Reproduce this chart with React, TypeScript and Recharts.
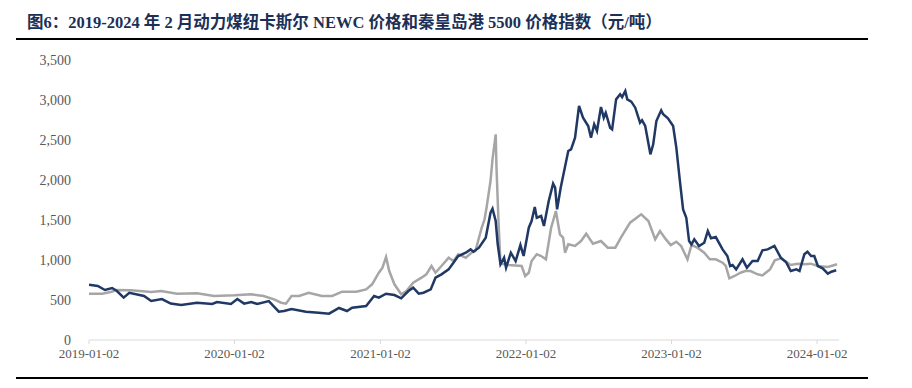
import { LineChart, Line, XAxis, YAxis } from "recharts";

// 纽卡斯尔 NEWC 动力煤价格（元/吨）
const newcDates = [
  "2019-01-02", "2019-01-24", "2019-02-11", "2019-03-01", "2019-03-13", "2019-03-30",
  "2019-04-13", "2019-05-20", "2019-06-07", "2019-07-04", "2019-07-26", "2019-08-21",
  "2019-09-30", "2019-11-07", "2019-11-19", "2019-12-24", "2020-01-09", "2020-01-26",
  "2020-02-13", "2020-02-28", "2020-03-28", "2020-04-22", "2020-05-05", "2020-05-24",
  "2020-06-29", "2020-07-31", "2020-08-26", "2020-09-20", "2020-10-10", "2020-10-23",
  "2020-11-27", "2020-12-17", "2020-12-29", "2021-01-16", "2021-02-06", "2021-02-23",
  "2021-03-13", "2021-03-25", "2021-04-08", "2021-04-20", "2021-05-08", "2021-05-20",
  "2021-06-04", "2021-06-22", "2021-07-04", "2021-07-16", "2021-08-04", "2021-08-16",
  "2021-08-23", "2021-09-06", "2021-09-23", "2021-10-05", "2021-10-10", "2021-10-18",
  "2021-10-23", "2021-10-30", "2021-11-08", "2021-11-13", "2021-11-25", "2021-12-07",
  "2021-12-19", "2021-12-27", "2022-01-09", "2022-01-16", "2022-01-24", "2022-01-29",
  "2022-02-09", "2022-02-16", "2022-02-28", "2022-03-11", "2022-03-16", "2022-03-21",
  "2022-03-30", "2022-04-18", "2022-04-25", "2022-05-05", "2022-05-15", "2022-05-25",
  "2022-06-07", "2022-06-14", "2022-06-22", "2022-06-29", "2022-07-09", "2022-07-16",
  "2022-07-21", "2022-08-01", "2022-08-06", "2022-08-16", "2022-08-26", "2022-08-31",
  "2022-09-08", "2022-09-13", "2022-09-23", "2022-10-03", "2022-10-15", "2022-10-20",
  "2022-10-28", "2022-11-10", "2022-11-17", "2022-11-25", "2022-12-07", "2022-12-12",
  "2022-12-24", "2023-01-06", "2023-01-14", "2023-01-23", "2023-01-31", "2023-02-08",
  "2023-02-15", "2023-02-21", "2023-02-28", "2023-03-12", "2023-03-25", "2023-04-03",
  "2023-04-11", "2023-04-23", "2023-05-10", "2023-05-22", "2023-05-29", "2023-06-04",
  "2023-06-13", "2023-06-29", "2023-07-10", "2023-07-24", "2023-08-06", "2023-08-18",
  "2023-08-31", "2023-09-17", "2023-10-03", "2023-10-16", "2023-10-28", "2023-11-11",
  "2023-11-19", "2023-12-01", "2023-12-09", "2023-12-18", "2023-12-26", "2024-01-04",
  "2024-01-16", "2024-01-29", "2024-02-07", "2024-02-19",
];
const newcValues = [
  690, 675, 625, 650, 612, 530,
  590, 550, 487, 512, 455, 437,
  466, 450, 475, 450, 512, 455,
  475, 450, 487, 354, 362, 387,
  354, 341, 329, 400, 362, 404,
  425, 550, 529, 579, 562, 521,
  612, 654, 579, 591, 633, 779,
  821, 883, 966, 1050, 1091, 1133,
  1104, 1154, 1279, 1591, 1640, 1487,
  1200, 946, 1029, 904, 1091, 987,
  1187, 1050, 1404, 1487, 1662, 1529,
  1550, 1425, 1737, 1954, 1904, 1633,
  1904, 2362, 2383, 2529, 2925, 2779,
  2675, 2529, 2696, 2612, 2912, 2779,
  2841, 2654, 2633, 3008, 3071, 3037,
  3112, 3008, 2979, 2904, 2716, 2746,
  2675, 2321, 2446, 2737, 2871, 2821,
  2771, 2675, 2404, 1987, 1633, 1529,
  1237, 1196, 1258, 1175, 1216, 1362,
  1271, 1287, 1133, 1050, 925, 937,
  883, 1008, 904, 987, 987, 1121,
  1133, 1175, 1029, 975, 862, 883,
  862, 1071, 1104, 1050, 1050, 925,
  896, 829, 854, 871,
];

// 秦皇岛港 5500 价格指数（元/吨）
const qhdDates = [
  "2019-01-02", "2019-02-04", "2019-02-28", "2019-03-11", "2019-04-17", "2019-06-07",
  "2019-07-02", "2019-08-11", "2019-09-30", "2019-11-12", "2020-01-02", "2020-02-13",
  "2020-03-15", "2020-04-10", "2020-04-28", "2020-05-10", "2020-05-24", "2020-06-12",
  "2020-07-06", "2020-08-08", "2020-09-03", "2020-09-28", "2020-11-02", "2020-11-27",
  "2020-12-12", "2020-12-29", "2021-01-07", "2021-01-16", "2021-01-24", "2021-02-06",
  "2021-02-23", "2021-03-08", "2021-03-25", "2021-04-15", "2021-04-27", "2021-05-10",
  "2021-05-20", "2021-06-04", "2021-06-22", "2021-07-04", "2021-07-16", "2021-08-04",
  "2021-08-18", "2021-08-28", "2021-09-13", "2021-09-20", "2021-09-25", "2021-10-05",
  "2021-10-10", "2021-10-18", "2021-10-20", "2021-10-25", "2021-10-30", "2021-11-20",
  "2021-12-22", "2021-12-31", "2022-01-09", "2022-01-16", "2022-01-29", "2022-02-09",
  "2022-02-21", "2022-03-06", "2022-03-18", "2022-03-28", "2022-04-05", "2022-04-10",
  "2022-04-18", "2022-05-05", "2022-05-20", "2022-06-02", "2022-06-19", "2022-07-09",
  "2022-07-26", "2022-08-14", "2022-08-28", "2022-09-20", "2022-10-18", "2022-11-05",
  "2022-11-22", "2022-12-04", "2022-12-19", "2022-12-31", "2023-01-14", "2023-01-26",
  "2023-02-11", "2023-02-21", "2023-03-08", "2023-03-25", "2023-04-08", "2023-04-23",
  "2023-05-10", "2023-05-18", "2023-05-27", "2023-06-09", "2023-06-24", "2023-07-06",
  "2023-07-19", "2023-08-06", "2023-08-18", "2023-09-06", "2023-09-18", "2023-10-03",
  "2023-10-20", "2023-10-27", "2023-11-15", "2023-12-02", "2023-12-17", "2024-01-04",
  "2024-01-29", "2024-02-21",
];
const qhdValues = [
  579, 579, 604, 625, 621, 600,
  612, 579, 583, 550, 558, 571,
  550, 508, 466, 454, 550, 550,
  591, 550, 550, 604, 604, 633,
  696, 841, 904, 1037, 862, 696,
  571, 612, 716, 779, 821, 925,
  841, 925, 1029, 987, 1071, 1029,
  1091, 1112, 1404, 1508, 1654, 1987,
  2258, 2570, 2154, 1487, 954, 937,
  925, 800, 841, 987, 1071, 1050,
  1008, 1404, 1612, 1321, 1279, 1091,
  1196, 1175, 1237, 1329, 1204, 1237,
  1154, 1154, 1279, 1466, 1571, 1487,
  1258, 1362, 1258, 1187, 1229, 1175,
  1008, 1187, 1154, 1091, 1008, 1008,
  966, 925, 771, 800, 841, 862,
  862, 821, 808, 883, 996, 1021,
  966, 937, 954, 946, 954, 925,
  912, 946,
];

const xTickLabels = ["2019-01-02", "2020-01-02", "2021-01-02", "2022-01-02", "2023-01-02", "2024-01-02"];
const yTicks = [0, 500, 1000, 1500, 2000, 2500, 3000, 3500];

const toTime = (d: string) => Date.parse(d + "T00:00:00Z");
const fmtDate = (t: number) => new Date(t).toISOString().slice(0, 10);

const newcData = newcDates.map((d, i) => ({ t: toTime(d), v: newcValues[i] }));
const qhdData = qhdDates.map((d, i) => ({ t: toTime(d), v: qhdValues[i] }));
const xTicks = xTickLabels.map(toTime);

const SERIF = '"Times New Roman", "Liberation Serif", "Noto Sans CJK SC", serif';
const NAVY = "#203864";
const GREY = "#a6a6a6";

export default function App() {
  return (
    <div style={{ position: "relative", width: 912, height: 388, background: "#fff" }}>
      <style>{`body{margin:0}`}</style>
      <div
        style={{
          position: "absolute",
          left: 27,
          top: 13,
          fontFamily: SERIF,
          fontWeight: 700,
          fontSize: 16.5,
          color: "#1c2f57",
          whiteSpace: "nowrap",
          lineHeight: "20px",
        }}
      >
        图6：2019-2024 年 2 月动力煤纽卡斯尔 NEWC 价格和秦皇岛港 5500 价格指数（元/吨）
      </div>
      <div style={{ position: "absolute", left: 16, top: 38, width: 852, height: 2, background: "#000" }} />
      <div style={{ position: "absolute", left: 16, top: 377, width: 852, height: 2, background: "#000" }} />
      <LineChart
        width={912}
        height={388}
        margin={{ top: 60, right: 73, left: 29, bottom: 0 }}
      >
        <XAxis
          type="number"
          dataKey="t"
          domain={[toTime("2019-01-02"), toTime("2024-02-26")]}
          ticks={xTicks}
          tickFormatter={fmtDate}
          height={48}
          axisLine={{ stroke: "#d9d9d9", strokeWidth: 1 }}
          tickLine={{ stroke: "#d9d9d9" }}
          tickSize={4}
          tickMargin={5}
          tick={{ fontFamily: SERIF, fontSize: 13, fill: "#595959" }}
          allowDataOverflow
        />
        <YAxis
          type="number"
          domain={[0, 3500]}
          ticks={yTicks}
          width={60}
          axisLine={false}
          tickLine={false}
          tickMargin={12}
          tickFormatter={(v: number) => v.toLocaleString("en-US")}
          tick={{ fontFamily: SERIF, fontSize: 14, fill: "#595959" }}
        />
        <Line
          data={qhdData}
          dataKey="v"
          type="linear"
          stroke={GREY}
          strokeWidth={2.5}
          dot={false}
          isAnimationActive={false}
        />
        <Line
          data={newcData}
          dataKey="v"
          type="linear"
          stroke={NAVY}
          strokeWidth={2.5}
          dot={false}
          isAnimationActive={false}
        />
      </LineChart>
    </div>
  );
}
